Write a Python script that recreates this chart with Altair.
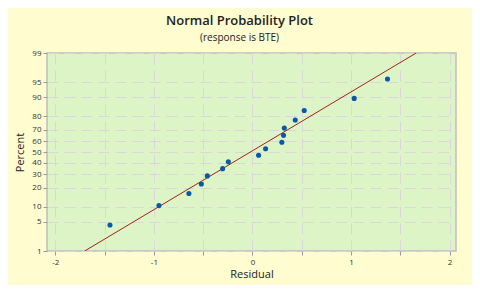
import altair as alt
import pandas as pd
from statistics import NormalDist

# Data
residual = [-1.446, -0.949, -0.645, -0.519, -0.458, -0.303, -0.245, 0.062,
            0.133, 0.298, 0.315, 0.323, 0.434, 0.525, 1.032, 1.370]
percent = [4.3, 10.4, 16.5, 22.6, 28.7, 34.8, 40.9, 47.0,
           53.0, 59.1, 65.2, 71.3, 77.4, 83.5, 89.6, 95.7]
fit_residual = [-1.703, 1.661]
fit_percent = [1, 99]
y_tick_pct = [1, 5, 10, 20, 30, 40, 50, 60, 70, 80, 90, 95, 99]
x_ticks = [-2, -1.5, -1, -0.5, 0, 0.5, 1, 1.5, 2]

nd = NormalDist()
y_tick_z = [nd.inv_cdf(p / 100) for p in y_tick_pct]
y_dom = [nd.inv_cdf(0.01), nd.inv_cdf(0.99)]
x_dom = [-2.085, 2.065]

pts = pd.DataFrame({"res": residual, "pct": percent})
fit = pd.DataFrame({"res": fit_residual, "pct": fit_percent})

x_enc = alt.X(
    "res:Q",
    scale=alt.Scale(domain=x_dom, nice=False, zero=False),
    axis=alt.Axis(
        title="Residual",
        values=x_ticks,
        labelExpr="datum.value % 1 == 0 ? '' + datum.value : ''",
    ),
)
y_enc = alt.Y(
    "z:Q",
    scale=alt.Scale(domain=y_dom, nice=False, zero=False),
    axis=alt.Axis(
        title="Percent",
        values=y_tick_z,
        labelExpr="format(cumulativeNormal(datum.value) * 100, '.0f')",
    ),
)

line = (
    alt.Chart(fit)
    .transform_calculate(z="quantileNormal(datum.pct / 100)")
    .mark_line(color="#A3201E", strokeWidth=1, clip=True)
    .encode(x=x_enc, y=y_enc)
)
points = (
    alt.Chart(pts)
    .transform_calculate(z="quantileNormal(datum.pct / 100)")
    .mark_circle(color="#0B57A8", opacity=1, size=26)
    .encode(x=x_enc, y=y_enc)
)

chart = (
    alt.layer(line, points)
    .properties(
        width=409,
        height=198,
        padding={"left": 39, "top": 45, "right": 16, "bottom": 34},
        autosize=alt.AutoSizeParams(type="none"),
        background="#FFFCCF",
        title=alt.Title(
            "Normal Probability Plot",
            subtitle="(response is BTE)",
            fontSize=13,
            fontWeight=600,
            font="Open Sans",
            color="#222222",
            subtitleFont="Open Sans",
            subtitleFontSize=10,
            subtitleColor="#222222",
            subtitlePadding=5,
            offset=6,
            dx=-12,
        ),
    )
    .configure_view(fill="#DDF5C6", stroke="#BDBDBD", strokeWidth=1.5)
    .configure_axis(
        grid=True,
        gridColor="#DAD6DC",
        gridDash=[11, 6],
        gridWidth=1,
        domain=False,
        tickColor="#9A9A9A",
        tickSize=4,
        labelFont="Open Sans",
        labelFontSize=8,
        labelColor="#333333",
        labelPadding=2,
        titleFont="Open Sans",
        titleFontSize=11,
        titleFontWeight="normal",
        titleColor="#222222",
    )
    .configure_axisY(titlePadding=6)
    .configure_axisX(titlePadding=2, labelPadding=3)
)

chart.save("out.html", embed_options={"renderer": "svg", "actions": False})
